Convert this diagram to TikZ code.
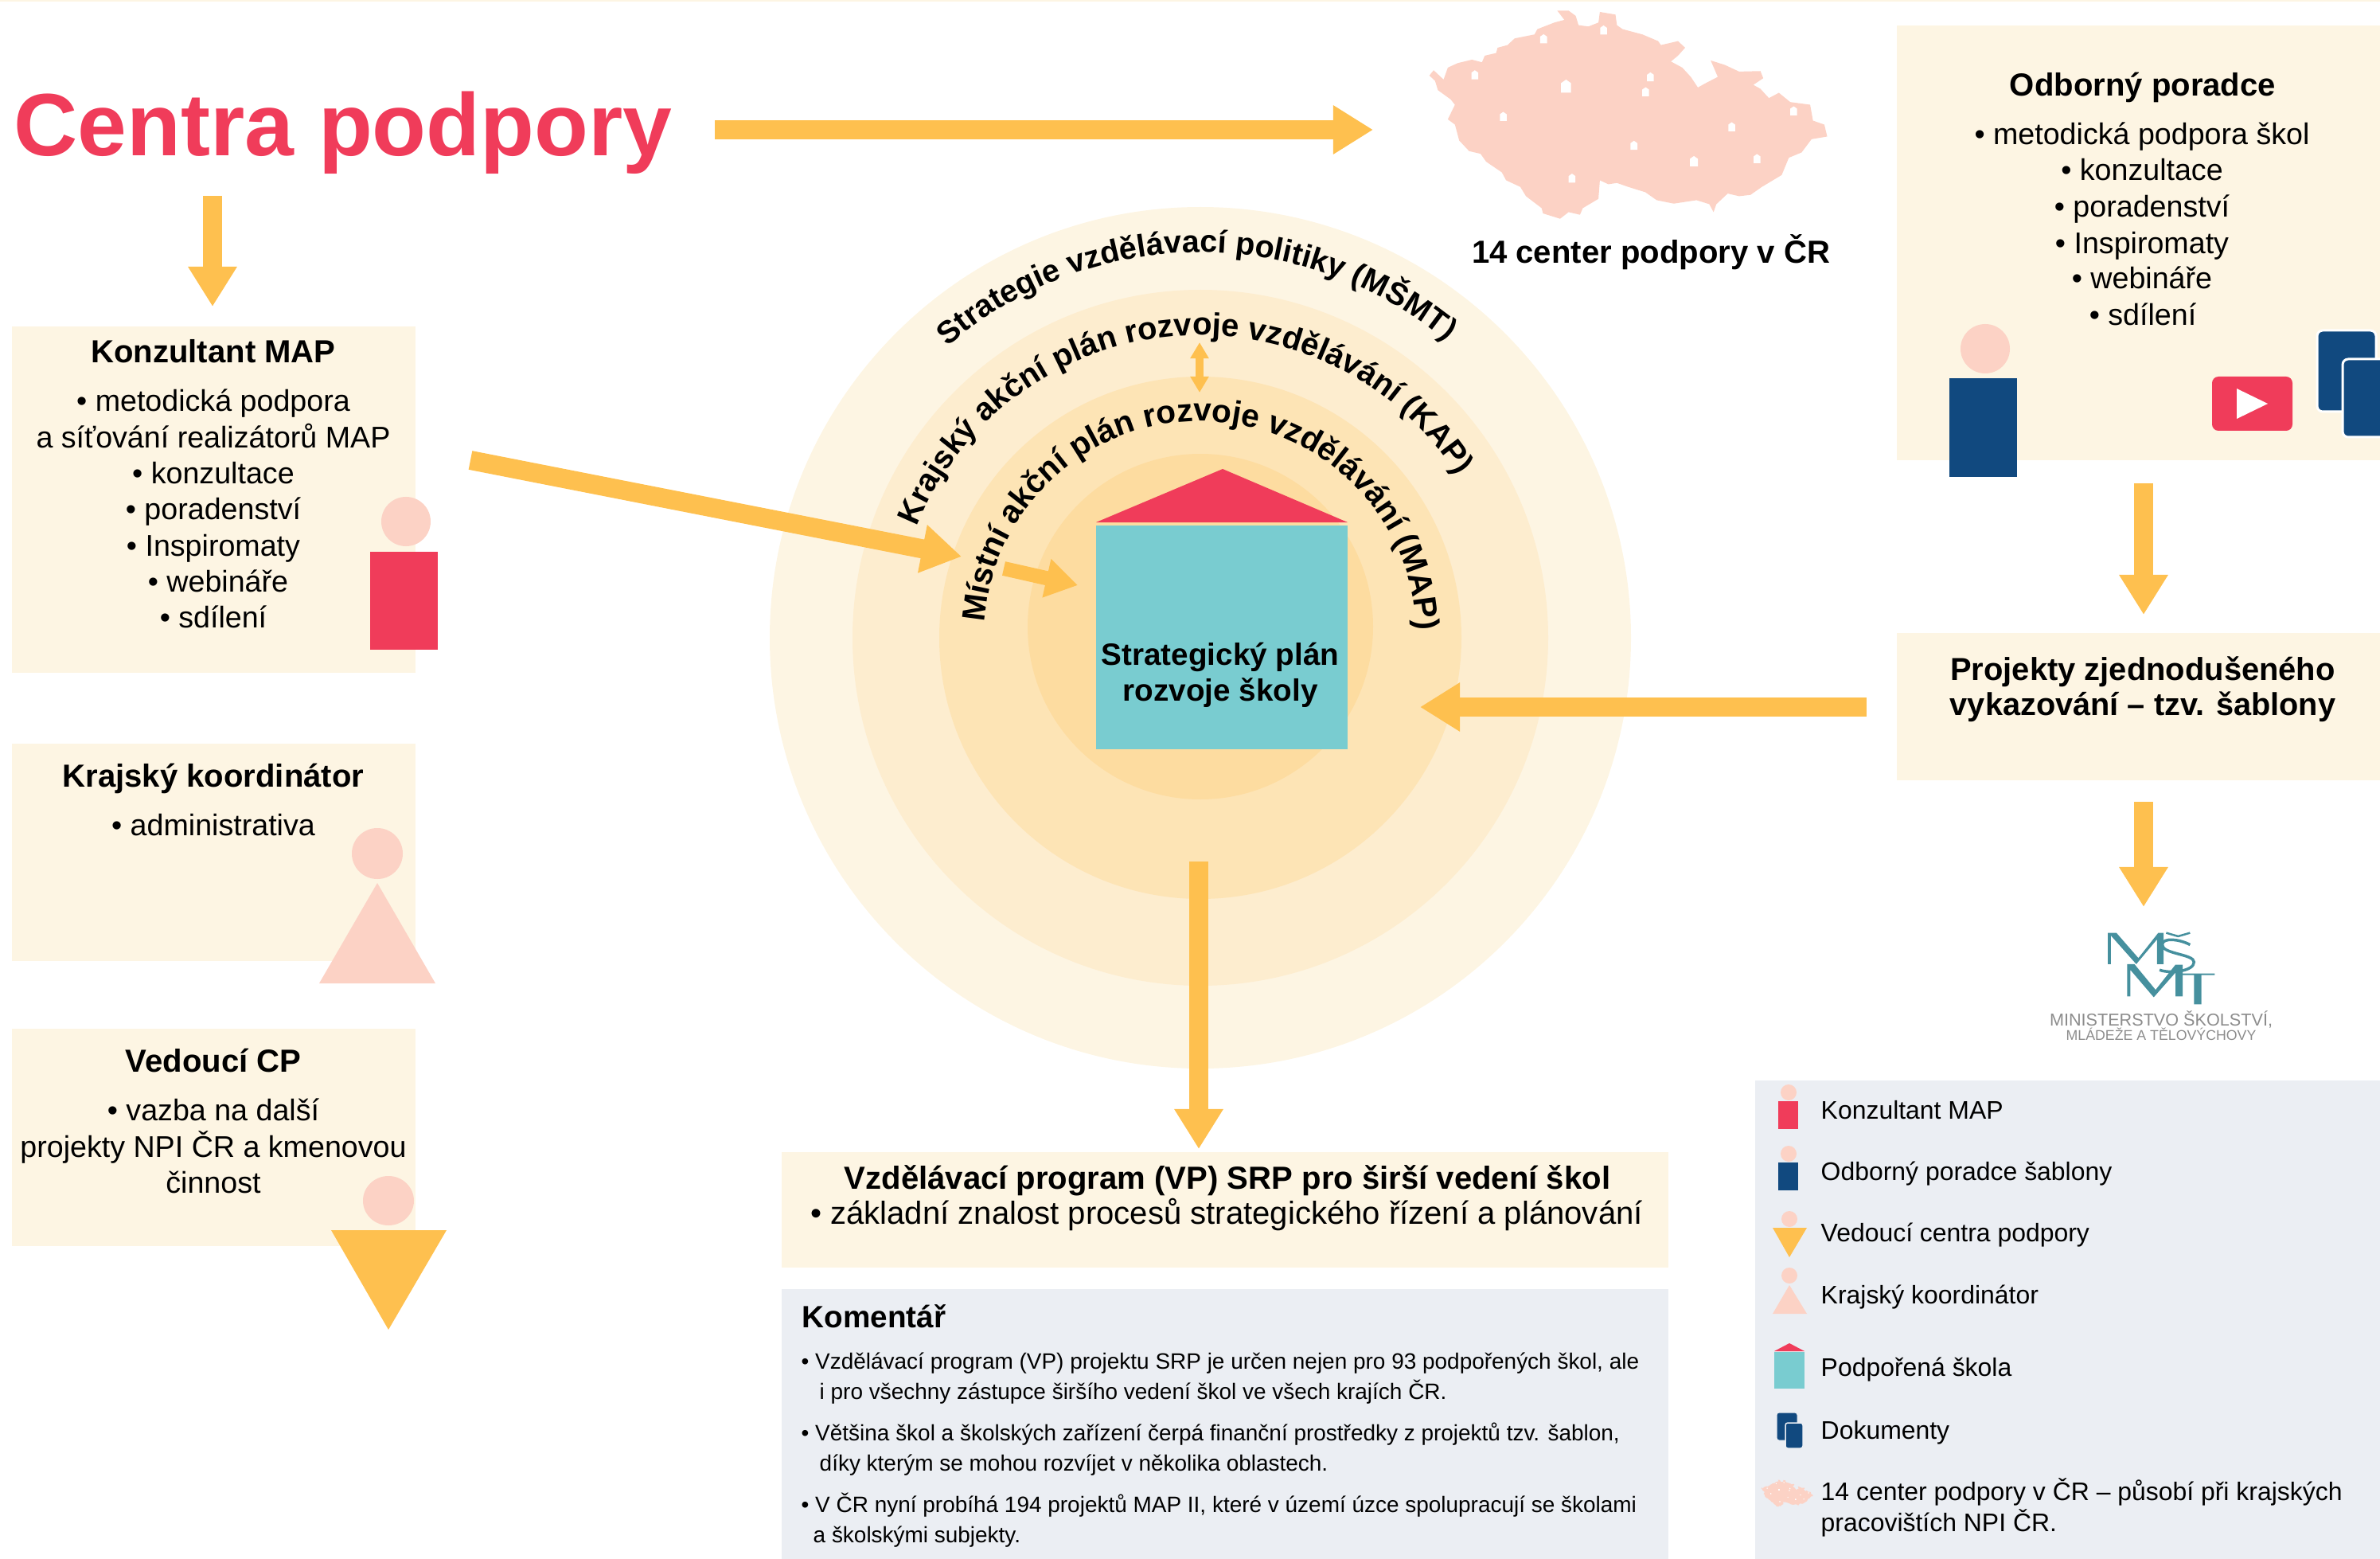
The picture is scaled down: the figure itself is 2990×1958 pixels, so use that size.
\documentclass[tikz,border=0pt]{standalone}
\usepackage{fontspec}
\setmainfont{Liberation Sans}
\usetikzlibrary{arrows.meta,decorations.text}
\definecolor{cream}{HTML}{FDF5E3}
\definecolor{ringa}{HTML}{FDF5E3}
\definecolor{ringb}{HTML}{FDEDCF}
\definecolor{ringc}{HTML}{FDE4B5}
\definecolor{ringd}{HTML}{FDDCA0}
\definecolor{amber}{HTML}{FEC04F}
\definecolor{rose}{HTML}{F03C5A}
\definecolor{navy}{HTML}{11497F}
\definecolor{teal}{HTML}{79CCD0}
\definecolor{peach}{HTML}{FCD2C5}
\definecolor{paleg}{HTML}{EBEEF3}
\definecolor{logot}{HTML}{46909E}
\definecolor{logog}{HTML}{8C8C8C}
\newcommand\fsz[1]{\fontsize{#1}{#1}\selectfont}
\newcommand\arcfont{\bfseries\fontsize{11.25}{12}\selectfont}
\newcommand\arcfontb{\bfseries\fontsize{11.4}{12}\selectfont}
\newcommand\arcfontc{\bfseries\fontsize{11.55}{12}\selectfont}
\tikzset{
  panel/.style={fill=cream,draw=none,inner sep=0,minimum width=#1},
  greypanel/.style={fill=paleg,draw=none,inner sep=0,minimum width=#1},
  txt/.style={inner sep=0,anchor=mid,font=\fsz{10.7}},
  ttl/.style={inner sep=0,anchor=mid,font=\bfseries\fsz{11.4}},
  com/.style={inner sep=0,anchor=mid west,font=\fsz{7.95}},
  leg/.style={inner sep=0,anchor=mid west,font=\fsz{9.08}},
  blk/.style={draw=amber,line width=2.4mm,-{Triangle[length=5mm,width=5.8mm]}},
  czmap/.pic={
    \fill[peach] (100,285)--(115,265)--(130,280)--(150,300)--(165,255)--(200,238)--(250,225)--(285,235)--(295,210)--(335,200)--(340,180)--(375,170)--(400,145)--(470,130)--(480,110)--(540,85)--(575,75)--(550,40)--(590,40)--(615,60)--(625,95)--(660,100)--(695,85)--(700,45)--(755,55)--(760,95)--(780,110)--(850,130)--(905,155)--(915,170)--(975,155)--(1000,180)--(975,210)--(950,232)--(990,255)--(1020,290)--(1045,330)--(1070,315)--(1115,290)--(1090,228)--(1140,245)--(1190,270)--(1265,268)--(1275,295)--(1240,320)--(1265,335)--(1295,370)--(1330,350)--(1370,385)--(1440,395)--(1450,455)--(1490,470)--(1500,515)--(1445,525)--(1410,575)--(1365,595)--(1340,660)--(1270,705)--(1230,735)--(1190,740)--(1150,730)--(1110,770)--(1100,800)--(1085,770)--(1040,755)--(960,768)--(900,755)--(860,725)--(800,705)--(760,690)--(730,695)--(700,680)--(695,750)--(640,785)--(630,810)--(590,800)--(560,825)--(500,805)--(495,785)--(440,740)--(420,705)--(370,680)--(355,650)--(300,610)--(280,580)--(240,570)--(205,530)--(190,470)--(165,450)--(190,395)--(175,375)--(130,340)--(120,305)--cycle;
    \foreach \hx/\hy/\hs in {260/282/1,502/146/1,713/113/1,878/290/1,861/346/1,581/325/1.45,360/439/1,820/548/1,1031/608/1.15,1253/598/1,1164/478/1,1382/418/1,602/672/1}{
      \fill[white] (\hx-12*\hs,\hy+17*\hs)--(\hx+12*\hs,\hy+17*\hs)--(\hx+12*\hs,\hy-8*\hs)--(\hx,\hy-17*\hs)--(\hx-12*\hs,\hy-8*\hs)--cycle;
    }
  }
}
\begin{document}
\begin{tikzpicture}[x=0.01cm,y=-0.01cm]
\useasboundingbox (0,0) rectangle (2990,1958);
\fill[cream] (0,0) rectangle (2990,2);
% rings
\fill[ringa] (1508,801) circle[radius=541];
\fill[ringb] (1508,801) circle[radius=437];
\fill[ringc] (1508,801) circle[radius=328];
\fill[ringd] (1508,787) circle[radius=217];
% panels
\node[panel=5.07cm,minimum height=4.35cm] (konz) at (268.5,627.5) {};
\node[panel=5.07cm,minimum height=2.73cm] (kraj) at (268.5,1070.5) {};
\node[panel=5.07cm,minimum height=2.73cm] (ved) at (268.5,1428.5) {};
\node[panel=6.07cm,minimum height=5.46cm] (odb) at (2686.5,305) {};
\node[panel=6.07cm,minimum height=1.85cm] (proj) at (2686.5,887.5) {};
\node[panel=11.14cm,minimum height=1.45cm] (vp) at (1539,1519.5) {};
\node[greypanel=11.14cm,minimum height=3.39cm] (kom) at (1539,1788.5) {};
\node[greypanel=7.85cm,minimum height=6.01cm] (lgd) at (2597.5,1657.5) {};
% heading and map
\node[inner sep=0,anchor=base,font=\bfseries\fsz{31.6},text=rose] (head) at (431,196) {Centra podpory};
\pic (mapbig) at (1760,0) [xscale=.357,yscale=.333] {czmap};
\node[inner sep=0,anchor=mid,font=\bfseries\fsz{11.4}] (mapcap) at (2074,321) {14 center podpory v ČR};
% connector ends
\coordinate (aS) at (898,163); \coordinate (aE) at (1725,163);
\coordinate (bS) at (267,246); \coordinate (bE) at (267,385);
\coordinate (cS) at (591,578); \coordinate (cE) at (1208,699);
\coordinate (dS) at (1261,714); \coordinate (dE) at (1354,735);
\coordinate (eS) at (2345,888); \coordinate (eE) at (1784,888);
\coordinate (fS) at (1506,1082); \coordinate (fE) at (1506,1443);
\coordinate (gS) at (2693,607); \coordinate (gE) at (2693,772);
\coordinate (hS) at (2693,1007); \coordinate (hE) at (2693,1139);
\coordinate (iS) at (1507,430); \coordinate (iE) at (1507,493);
% school
\fill[rose] (1377,656)--(1536,589)--(1693,656)--cycle;
\node[fill=teal,inner sep=0,minimum width=3.16cm,minimum height=2.81cm] (school) at (1535,800.5) {};
\node[inner sep=0,anchor=mid,font=\bfseries\fsz{11.0}] (sch1) at (1533,826) {Strategický plán};
\node[inner sep=0,anchor=mid,font=\bfseries\fsz{11.0}] (sch2) at (1533,871) {rozvoje školy};
% arrows
\draw[blk] (aS) -- (aE);
\draw[blk] (bS) -- (bE);
\draw[blk] (cS) -- (cE);
\draw[draw=amber,line width=1.8mm,-{Triangle[length=4mm,width=4.7mm]}] (dS) -- (dE);
\draw[blk] (eS) -- (eE);
\draw[blk] (fS) -- (fE);
\draw[blk] (gS) -- (gE);
\draw[blk] (hS) -- (hE);
\draw[draw=amber,line width=1mm,{Triangle[length=2mm,width=2.2mm]}-{Triangle[length=2mm,width=2.2mm]}] (iS) -- (iE);
% curved texts
\path[decorate,decoration={text along path,text={|\arcfont|Strategie vzdělávací politiky (MŠMT)},text align=left}]
  (1508,801) ++(-131:484) arc[start angle=-131,end angle=-15,radius=484];
\path[decorate,decoration={text along path,text={|\arcfontb|Krajský akční plán rozvoje vzdělávání (KAP)},text align=left}]
  (1508,805) ++(-158:384) arc[start angle=-158,end angle=-5,radius=384];
\path[decorate,decoration={text along path,text={|\arcfontc|Místní akční plán rozvoje vzdělávání (MAP)},text align=left}]
  (1508,801) ++(-176:272) arc[start angle=-176,end angle=25,radius=272];
% left texts
\node[ttl] (k0) at (268,446) {Konzultant MAP};
\node[txt] (k1) at (268,507) {• metodická podpora};
\node[txt] (k2) at (268,553) {a síťování realizátorů MAP};
\node[txt] (k3) at (268,598) {• konzultace};
\node[txt] (k4) at (268,643) {• poradenství};
\node[txt] (k5) at (268,689) {• Inspiromaty};
\node[txt] (k6) at (274,734) {• webináře};
\node[txt] (k7) at (268,779) {• sdílení};
\fill[peach] (510,655) ellipse[x radius=31,y radius=31];
\fill[rose] (465,693) rectangle (550,816);
\node[ttl] (j0) at (268,979) {Krajský koordinátor};
\node[txt] (j1) at (268,1040) {• administrativa};
\fill[peach] (474,1072) ellipse[x radius=32,y radius=32];
\fill[peach] (474,1109)--(547,1235)--(401,1235)--cycle;
\node[ttl] (v0) at (268,1337) {Vedoucí CP};
\node[txt] (v1) at (268,1398) {• vazba na další};
\node[txt] (v2) at (268,1444) {projekty NPI ČR a kmenovou};
\node[txt] (v3) at (268,1489) {činnost};
\fill[peach] (488,1508) ellipse[x radius=32,y radius=31];
\fill[amber] (416,1545)--(561,1545)--(488,1670)--cycle;
% right texts
\node[ttl] (o0) at (2692,111) {Odborný poradce};
\node[txt] (o1) at (2691,172) {• metodická podpora škol};
\node[txt] (o2) at (2691,217) {• konzultace};
\node[txt] (o3) at (2691,263) {• poradenství};
\node[txt] (o4) at (2691,309) {• Inspiromaty};
\node[txt] (o5) at (2691,353) {• webináře};
\node[txt] (o6) at (2692,399) {• sdílení};
\fill[peach] (2494,438) ellipse[x radius=31,y radius=31];
\fill[navy] (2449,475) rectangle (2534,599);
\fill[rose,rounded corners=.8mm] (2779,473) rectangle (2880,541);
\fill[white] (2810,488)--(2849,507)--(2810,526)--cycle;
\begin{scope}
\clip (0,0) rectangle (2990,1958);
\draw[white,fill=navy,line width=.3mm,rounded corners=.7mm] (2911,415) rectangle (2985,517);
\draw[white,fill=navy,line width=.3mm,rounded corners=.7mm] (2943,451) rectangle (3020,549);
\end{scope}
\node[inner sep=0,anchor=mid,font=\bfseries\fsz{11.35}] (p1) at (2692,845) {Projekty zjednodušeného};
\node[inner sep=0,anchor=mid,font=\bfseries\fsz{11.3}] (p2) at (2692,889) {vykazování – tzv. šablony};
% logo
\begin{scope}[shift={(2540,1140)},x=0.00333cm,y=-0.00333cm]
\fill[logot] (325,95)--(357,95)--(440,190)--(515,95)--(535,95)--(535,213)--(510,213)--(510,120)--(432,213)--(336,105)--(336,213)--(325,213)--cycle;
\fill[logot] (398,213)--(425,213)--(505,310)--(580,215)--(607,215)--(607,335)--(580,335)--(580,245)--(498,338)--(410,235)--(410,335)--(398,335)--cycle;
\fill[logot] (607,248)--(728,248)--(728,254)--(678,254)--(678,365)--(650,365)--(650,254)--(607,254)--cycle;
\draw[logot,line width=.35mm] (635,140) .. controls (600,120) and (530,110) .. (530,140) .. controls (530,175) and (650,175) .. (650,205) .. controls (650,240) and (560,250) .. (520,235);
\draw[logot,line width=.25mm] (545,95)--(590,108)--(635,95);
\end{scope}
\node[inner sep=0,anchor=mid,font=\fsz{6.15},text=logog] (lg1) at (2715,1279) {MINISTERSTVO ŠKOLSTVÍ,};
\node[inner sep=0,anchor=mid,font=\fsz{5.05},text=logog] (lg2) at (2715,1297) {MLÁDEŽE A TĚLOVÝCHOVY};
% vp panel
\node[inner sep=0,anchor=mid,font=\bfseries\fsz{11.4}] (vp1) at (1542,1484) {Vzdělávací program (VP) SRP pro širší vedení škol};
\node[inner sep=0,anchor=mid,font=\fsz{11.4}] (vp2) at (1541,1528) {• základní znalost procesů strategického řízení a plánování};
% comment
\node[inner sep=0,anchor=mid west,font=\bfseries\fsz{11.0}] (c0) at (1007,1658) {Komentář};
\node[com] (c1) at (1006,1710) {• Vzdělávací program (VP) projektu SRP je určen nejen pro 93 podpořených škol, ale};
\node[com] (c2) at (1029,1748) {i pro všechny zástupce širšího vedení škol ve všech krajích ČR.};
\node[com] (c3) at (1006,1800) {• Většina škol a školských zařízení čerpá finanční prostředky z projektů tzv. šablon,};
\node[com] (c4) at (1029,1838) {díky kterým se mohou rozvíjet v několika oblastech.};
\node[com] (c5) at (1006,1890) {• V ČR nyní probíhá 194 projektů MAP II, které v území úzce spolupracují se školami};
\node[com] (c6) at (1021,1928) {a školskými subjekty.};
% legend
\fill[peach] (2247,1372) ellipse[x radius=10,y radius=10];
\fill[rose] (2234,1383) rectangle (2259,1418);
\node[leg] (l1) at (2287,1396) {Konzultant MAP};
\fill[peach] (2247,1449) ellipse[x radius=10,y radius=10];
\fill[navy] (2234,1460) rectangle (2259,1495);
\node[leg] (l2) at (2287,1473) {Odborný poradce šablony};
\fill[peach] (2248,1531) ellipse[x radius=10,y radius=10];
\fill[amber] (2227,1542)--(2270,1542)--(2248,1579)--cycle;
\node[leg] (l3) at (2287,1550) {Vedoucí centra podpory};
\fill[peach] (2248,1602) ellipse[x radius=10,y radius=10];
\fill[peach] (2248,1614)--(2270,1650)--(2227,1650)--cycle;
\node[leg] (l4) at (2287,1628) {Krajský koordinátor};
\fill[rose] (2229,1697)--(2248,1687)--(2267,1697)--cycle;
\fill[teal] (2229,1698) rectangle (2267,1744);
\node[leg] (l5) at (2287,1719) {Podpořená škola};
\draw[paleg,fill=navy,line width=.1mm,rounded corners=.3mm] (2232,1774) rectangle (2258,1809);
\draw[paleg,fill=navy,line width=.15mm,rounded corners=.3mm] (2243,1787) rectangle (2265,1819);
\node[leg] (l6) at (2287,1798) {Dokumenty};
\pic (mapsmall) at (2208,1857) [xscale=.0464,yscale=.0428] {czmap};
\node[leg] (l7) at (2287,1875) {14 center podpory v ČR – působí při krajských};
\node[leg] (l8) at (2287,1914) {pracovištích NPI ČR.};
\end{tikzpicture}
\end{document}
